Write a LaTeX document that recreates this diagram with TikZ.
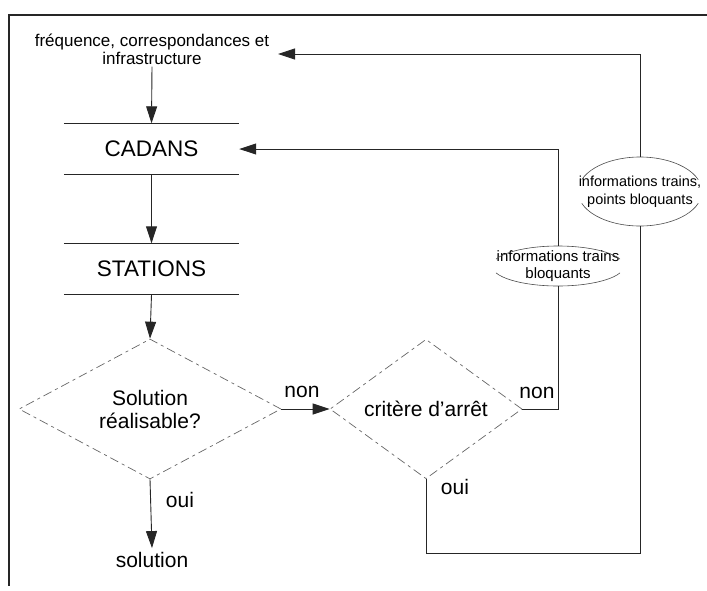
\documentclass[tikz,border=0pt]{standalone}
\usepackage{fontspec}
\setmainfont{Liberation Sans}
\usetikzlibrary{arrows.meta,shapes.geometric}

\begin{document}
\begin{tikzpicture}[x=1pt,y=-1pt,
  line/.style={draw=black!85,line width=0.9pt},
  arr/.style={line,-{Triangle[length=17pt,width=11pt]}},
  lbl/.style={font=\fontsize{21}{24}\selectfont,inner sep=0pt},
  decision/.style={diamond,draw=black!60,line width=0.7pt,
    dash pattern=on 9pt off 4pt on 3pt off 4pt,inner sep=0pt,align=center,
    font=\fontsize{21}{23}\selectfont},
  stepbox/.style={rectangle,minimum width=175pt,minimum height=51pt,
    inner sep=0pt,font=\fontsize{22.5}{24}\selectfont},
  info/.style={rectangle,inner sep=0pt,align=center},
  ell/.style={draw=black!70,line width=0.6pt},
]
\useasboundingbox (0,0) rectangle (707,590);

% outer frame (top and left edges only)
\draw[line width=1.1pt,black!85] (707,15) -- (9,15) -- (9,586);

% input data
\node[align=center,font=\fontsize{17}{18}\selectfont,inner sep=2pt] (src) at (152,49)
  {fréquence, correspondances et\\infrastructure};
\coordinate (srcin) at (278,54);

% processing steps
\node[stepbox] (cad) at (151.5,149) {CADANS};
\node[stepbox] (sta) at (151.5,269) {STATIONS};
\foreach \b in {cad,sta}{
  \draw[line] (\b.north west) -- (\b.north east);
  \draw[line] (\b.south west) -- (\b.south east);
}

% decisions
\node[decision,minimum width=262pt,minimum height=126pt] (d1) at (150,409)
  {Solution\\réalisable?};
\node[decision,minimum width=192pt,minimum height=95pt] (d2) at (426,409)
  {critère d'arrêt};

% result
\node[lbl,inner sep=4pt] (sol) at (152,560) {solution};

% feedback information
\node[info,font=\fontsize{15}{16.5}\selectfont,minimum height=40pt] (e1) at (558,266)
  {informations trains\\bloquants};
\node[info,font=\fontsize{14.5}{18.5}\selectfont,minimum height=69pt] (e2) at (640,191.5)
  {informations trains,\\points bloquants};
\draw[ell] (e1.center) ++(200:66 and 20) arc[start angle=200,end angle=340,x radius=66,y radius=20];
\draw[ell] (e1.center) ++(20:66 and 20) arc[start angle=20,end angle=160,x radius=66,y radius=20];
\draw[ell] (e2.center) ++(200:62 and 34.5) arc[start angle=200,end angle=340,x radius=62,y radius=34.5];
\draw[ell] (e2.center) ++(20:62 and 34.5) arc[start angle=20,end angle=160,x radius=62,y radius=34.5];

% main flow
\draw[arr] (src.south) -- (cad.north);
\draw[arr] (cad.south) -- (sta.north);
\draw[arr] (sta.south) -- (d1.north);
\draw[arr] (d1.south) -- (sol.north);
\draw[arr] (d1.east) -- (d2.west);

% loops back
\draw[line] (d2.east) -| (e1.south);
\draw[arr] (e1.north) |- (cad.east);
\coordinate (loop) at (640,553);
\draw[line] (d2.south) |- (loop) -- (e2.south);
\draw[arr] (e2.north) |- (srcin);

% branch labels
\node[lbl] (non1) at (302,392) {non};
\node[lbl] (oui1) at (180,500) {oui};
\node[lbl] (non2) at (537,393) {non};
\node[lbl] (oui2) at (455,487) {oui};
\end{tikzpicture}
\end{document}
